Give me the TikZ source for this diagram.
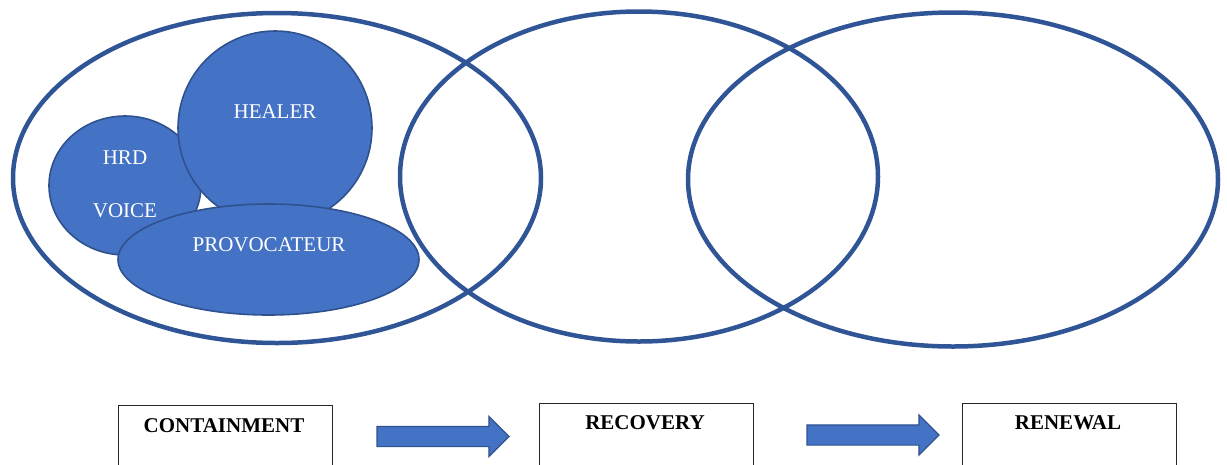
\documentclass[tikz,border=0pt]{standalone}
\usepackage{fontspec}
\setmainfont{Liberation Serif}
\usetikzlibrary{shapes.geometric,shapes.arrows}
\definecolor{ringblue}{HTML}{2F5597}
\definecolor{fillblue}{HTML}{4472C4}
\definecolor{edgeblue}{HTML}{2F528F}
\begin{document}
\begin{tikzpicture}[x=1pt,y=-1pt,
  ring/.style={draw=ringblue,line width=4.5pt,ellipse,inner sep=0pt},
  blob/.style={draw=edgeblue,fill=fillblue,line width=1.6pt,ellipse,inner sep=0pt},
  roletext/.style={text=white,font=\fontsize{21}{25}\selectfont,inner sep=0pt},
  stagebox/.style={draw=black!85,line width=1.2pt,rectangle,inner sep=0pt,anchor=north west,minimum height=80pt},
  stagetext/.style={font=\fontsize{21}{25}\selectfont\bfseries,inner sep=0pt},
  flow/.style={single arrow,draw=edgeblue,fill=fillblue,line width=1.2pt,
    inner xsep=0pt,inner ysep=9.5pt,minimum height=132pt,outer sep=0pt,
    single arrow head extend=10pt,single arrow tip angle=90,anchor=tail}]
  \useasboundingbox (0,0) rectangle (1227,464);

  % roles inside the containment phase
  \node[blob,minimum width=152pt,minimum height=139pt] (hrd) at (125,185.5) {};
  \node[blob,minimum width=194pt,minimum height=194pt] (healer) at (275,128) {};
  \node[blob,minimum width=301pt,minimum height=111pt] (prov) at (268.5,259.5) {};
  \node[roletext] (hrdt) at (125,158) {HRD};
  \node[roletext] (voicet) at (125,211) {VOICE};
  \node[roletext] (healert) at (275,112) {HEALER};
  \node[roletext] (provt) at (269,245) {PROVOCATEUR};

  % the three overlapping phases
  \node[ring,minimum width=528pt,minimum height=330pt] (contain) at (277,178) {};
  \node[ring,minimum width=478pt,minimum height=330pt] (recover) at (639,176.5) {};
  \node[ring,minimum width=530pt,minimum height=334pt] (renew) at (953,179.5) {};

  % stage boxes along the bottom
  \node[stagebox,minimum width=214pt] (b1) at (118,405) {};
  \node[stagebox,minimum width=214pt] (b2) at (539,403) {};
  \node[stagebox,minimum width=214pt] (b3) at (962,403) {};
  \node[stagetext] (t1) at (224,426) {CONTAINMENT};
  \node[stagetext] (t2) at (645,423) {RECOVERY};
  \node[stagetext] (t3) at (1068,423) {RENEWAL};

  % block arrows between the stages
  \node[flow] (a1) at (377,436.5) {};
  \node[flow] (a2) at (807,435) {};
\end{tikzpicture}
\end{document}
